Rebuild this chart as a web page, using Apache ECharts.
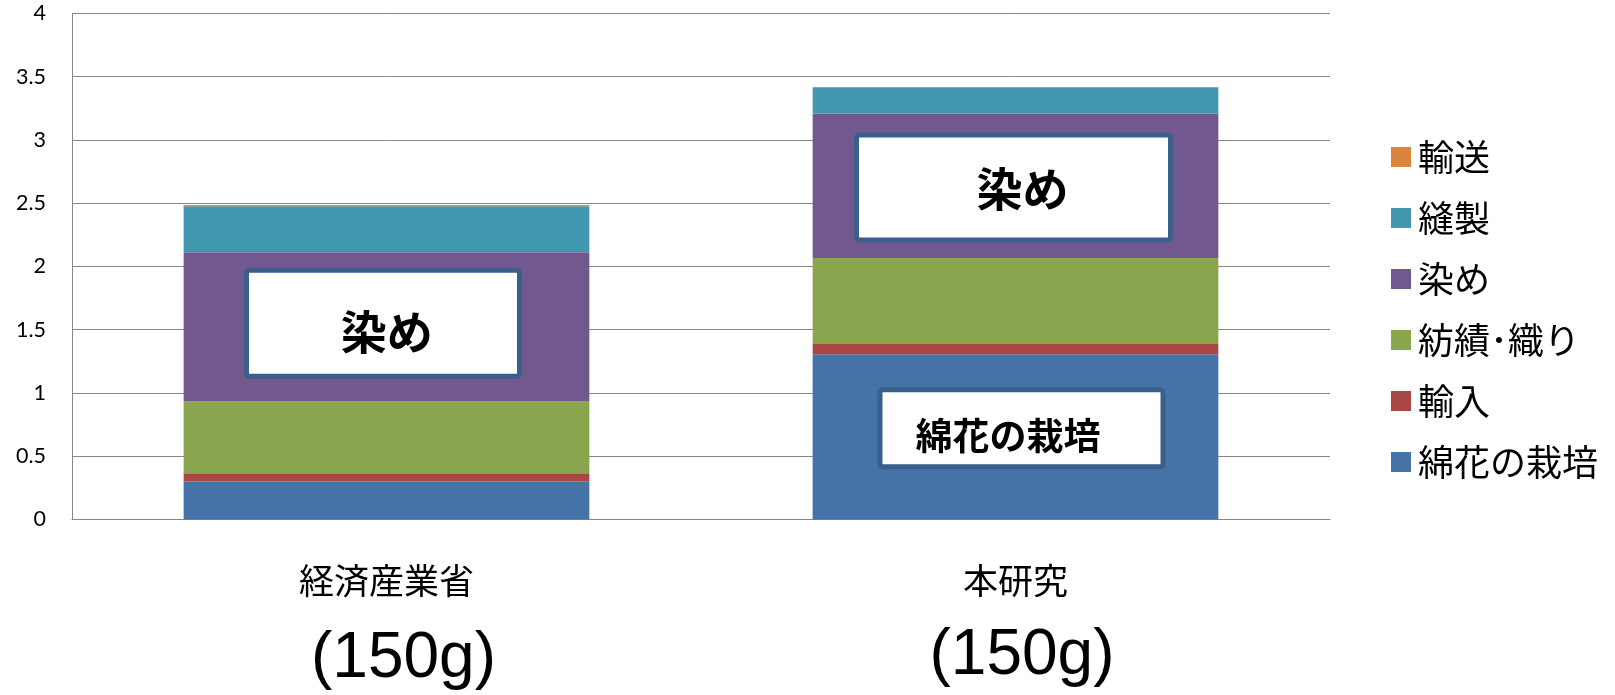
<!DOCTYPE html>
<html>
<head>
<meta charset="utf-8">
<script src="https://cdn.jsdelivr.net/npm/echarts@6/dist/echarts.min.js"></script>
<style>
  html, body { margin: 0; padding: 0; background: #ffffff; }
  #chart { width: 1615px; height: 695px; }
</style>
</head>
<body>
<div id="chart"></div>
<script>
// ---- data ----
const categories = ['経済産業省', '本研究'];
const weightLabels = ['(150g)', '(150g)'];
const seriesNames = ['綿花の栽培', '輸入', '紡績･織り', '染め', '縫製', '輸送'];
const cottonGrowing = [0.30, 1.305];
const importValues = [0.066, 0.082];
const spinningWeaving = [0.566, 0.679];
const dyeing = [1.18, 1.141];
const sewing = [0.364, 0.208];
const transport = [0.01, 0.0];
const legendOrder = ['輸送', '縫製', '染め', '紡績･織り', '輸入', '綿花の栽培'];
const yTicks = [0, 0.5, 1, 1.5, 2, 2.5, 3, 3.5, 4];
const annotationTexts = ['染め', '染め', '綿花の栽培'];

// ---- styles ----
const colors = ['#4572A7', '#AA4643', '#89A54E', '#71588F', '#4198AF', '#DB843D'];
const cjk = '"Noto Sans CJK JP", "Noto Sans CJK SC", sans-serif';
const seriesValues = [cottonGrowing, importValues, spinningWeaving, dyeing, sewing, transport];

const chart = echarts.init(document.getElementById('chart'), null, { renderer: 'canvas' });

const option = {
  animation: false,
  backgroundColor: '#ffffff',
  grid: { left: 72, right: 285, top: 13.3, bottom: 175.5, containLabel: false },
  legend: {
    orient: 'vertical',
    left: 1386,
    top: 132,
    itemWidth: 20,
    itemHeight: 20,
    itemGap: 21,
    icon: 'rect',
    data: legendOrder,
    textStyle: { fontSize: 36, lineHeight: 40, color: '#000', fontFamily: cjk, padding: [0, 0, 0, 2] }
  },
  xAxis: {
    type: 'category',
    data: categories,
    axisTick: { show: false },
    axisLine: { lineStyle: { color: '#868686', width: 1 } },
    axisLabel: {
      margin: 41,
      interval: 0,
      formatter: function (v, i) { return '{a|' + v + '}\n{b' + i + '|' + weightLabels[i] + '}'; },
      rich: {
        a: { fontSize: 35, lineHeight: 40, color: '#000', fontFamily: cjk },
        b0: { fontSize: 64, lineHeight: 118, color: '#000', fontFamily: '"Liberation Sans", Arial, sans-serif', padding: [0, 0, 0, 34] },
        b1: { fontSize: 64, lineHeight: 112, color: '#000', fontFamily: '"Liberation Sans", Arial, sans-serif', padding: [0, 0, 0, 13] }
      }
    }
  },
  yAxis: {
    type: 'value',
    min: yTicks[0],
    max: yTicks[yTicks.length - 1],
    interval: yTicks[1] - yTicks[0],
    axisLine: { show: true, lineStyle: { color: '#868686', width: 1 } },
    axisTick: { show: false },
    splitLine: { lineStyle: { color: '#868686', width: 1 } },
    axisLabel: { fontSize: 21.5, color: '#000', fontFamily: 'Lato, "Open Sans", sans-serif', margin: 26 }
  },
  series: seriesNames.map(function (name, k) {
    return {
      name: name,
      type: 'bar',
      stack: 'total',
      barWidth: '64.5%',
      data: seriesValues[k],
      itemStyle: { color: colors[k] }
    };
  })
};
chart.setOption(option);

// annotation boxes anchored to data coordinates (category index, value)
const annotationLayout = [
  { cat: 0, y: 1.55, dx: -3.5, w: 278, h: 111, size: 46, tdx: 3.7, tdy: 8 },
  { cat: 1, y: 2.623, dx: -2, w: 319, h: 110, size: 46, tdx: 9, tdy: 1 },
  { cat: 1, y: 0.721, dx: 6, w: 288, h: 82, size: 37, tdx: -13.5, tdy: 7.5 }
];
const bw = 5;
const graphics = annotationLayout.map(function (a, i) {
  const p = chart.convertToPixel({ gridIndex: 0 }, [a.cat, a.y]);
  const cx = p[0] + a.dx, cy = p[1];
  return {
    type: 'group',
    children: [
      {
        type: 'rect',
        shape: { x: cx - a.w / 2 + bw / 2, y: cy - a.h / 2 + bw / 2, width: a.w - bw, height: a.h - bw, r: 3 },
        style: { fill: '#ffffff', stroke: '#3A5F8B', lineWidth: bw },
        z: 100
      },
      {
        type: 'text',
        x: cx + a.tdx,
        y: cy + a.tdy,
        style: {
          text: annotationTexts[i],
          fontSize: a.size,
          fontWeight: 'bold',
          fontFamily: cjk,
          fill: '#000',
          align: 'center',
          verticalAlign: 'middle'
        },
        z: 101
      }
    ]
  };
});
chart.setOption({ graphic: graphics });
</script>
</body>
</html>
